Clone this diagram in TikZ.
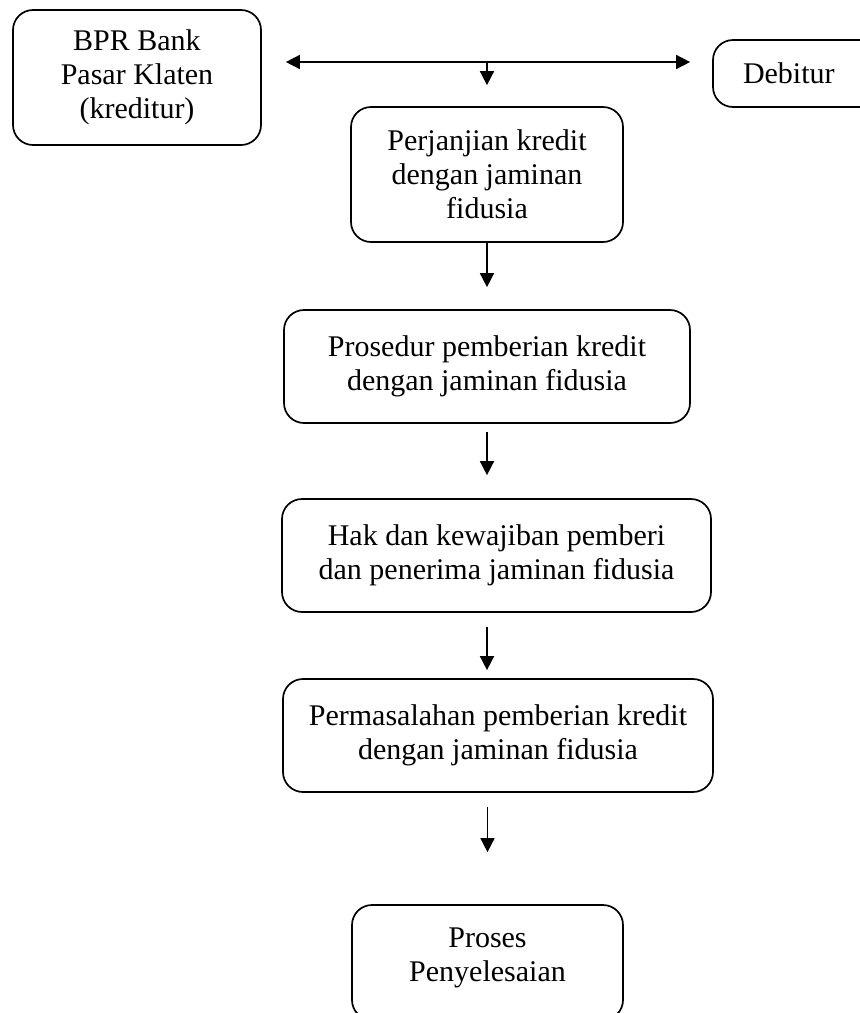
\documentclass[tikz,border=0pt]{standalone}
\usepackage{fontspec}
\setmainfont{Liberation Serif}
\usetikzlibrary{arrows.meta}
\begin{document}
\begin{tikzpicture}[x=1pt,y=-1pt,
  box/.style={draw,line width=1.7pt,rounded corners=20pt,align=center,
    font=\fontsize{30}{34}\selectfont,inner sep=0pt},
  arr/.style={line width=1.6pt,-{Triangle[length=14pt,width=14pt]}},
  dbl/.style={line width=1.6pt,{Triangle[length=14pt,width=14pt]}-{Triangle[length=14pt,width=14pt]}}]
\useasboundingbox (0,0) rectangle (860,1013);
\node[box,minimum width=248pt,minimum height=135pt] (bpr) at (137,77.5) {BPR Bank\\Pasar Klaten\\(kreditur)};
\node[box,minimum width=190pt,minimum height=67pt] (deb) at (808,73.5) {\makebox[130pt][l]{Debitur}};
\node[box,minimum width=272pt,minimum height=135pt] (perj) at (487,174.5) {Perjanjian kredit\\dengan jaminan\\fidusia};
\node[box,minimum width=406pt,minimum height=113pt] (pros) at (487,366.5) {Prosedur pemberian kredit\\dengan jaminan fidusia};
\node[box,minimum width=429pt,minimum height=113pt] (hak) at (496.5,555.5) {Hak dan kewajiban pemberi\\dan penerima jaminan fidusia};
\node[box,minimum width=430pt,minimum height=113pt] (perm) at (498,735.5) {Permasalahan pemberian kredit\\dengan jaminan fidusia};
\node[box,minimum width=271pt,minimum height=115pt] (proc) at (487.5,962.5) {Proses\\Penyelesaian\\[-19pt]\mbox{}};
\draw[dbl] ([xshift=24pt,yshift=15.5pt]bpr.east) -- ([xshift=-22pt,yshift=11.5pt]deb.west);
\draw[arr] ([yshift=45pt]perj.north) -- ([yshift=21pt]perj.north);
\draw[arr] (perj.south) -- ([yshift=22pt]pros.north);
\draw[arr] ([yshift=-8pt]pros.south) -- ([yshift=23pt]pros.south |- hak.north);
\draw[arr] ([yshift=-14pt]hak.south -| pros.south) -- ([yshift=8pt]perm.north -| pros.south);
\draw[arr] ([yshift=-14pt]perm.south -| proc.north) -- ([yshift=52pt]proc.north);
\end{tikzpicture}
\end{document}
